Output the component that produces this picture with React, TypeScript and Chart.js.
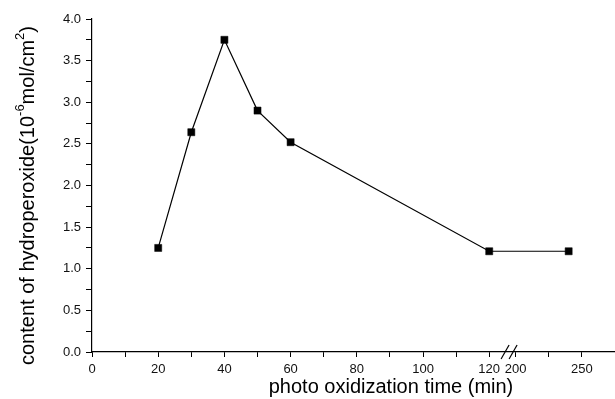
import React, { useEffect, useRef } from "react";
import { Chart, registerables } from "chart.js";

Chart.register(...registerables);

// ---- data ----
const times = [20, 30, 40, 50, 60, 120, 240]; // photo oxidization time (min)
const hydroperoxide = [1.25, 2.64, 3.75, 2.9, 2.52, 1.21, 1.21]; // 10^-6 mol/cm^2
const xMajorTicks = [0, 20, 40, 60, 80, 100, 120, 200, 250];
const xMinorTicks = [10, 30, 50, 70, 90, 110, 225];
const yMin = 0;
const yMax = 4;
const yStep = 0.25;
const xTitle = "photo oxidization time (min)";
const yTitleParts = [
  { t: "content of hydroperoxide(10", sup: false },
  { t: "-6", sup: true },
  { t: "mol/cm", sup: false },
  { t: "2", sup: true },
  { t: ")", sup: false },
];

// broken x axis: 0..120 then 200..275 compressed
const BREAK_FROM = 120;
const BREAK_TO = 200;
const BREAK_GAP = 8;
const AFTER_SCALE = 0.4;
const X_END = 275;

function toAxis(v: number): number {
  return v <= BREAK_FROM ? v : BREAK_FROM + BREAK_GAP + (v - BREAK_TO) * AFTER_SCALE;
}

const FONT = '"Liberation Sans", Arial, Helvetica, sans-serif';

const decorPlugin = {
  id: "decor",
  afterDraw(chart: any) {
    const ctx = chart.ctx as CanvasRenderingContext2D;
    const xs = chart.scales.x;
    const ys = chart.scales.y;
    ctx.save();
    // axis break marks
    const bx = xs.getPixelForValue(BREAK_FROM + BREAK_GAP * 0.75);
    const by = ys.getPixelForValue(0);
    ctx.strokeStyle = "#000";
    ctx.lineWidth = 1.2;
    for (const dx of [-4, 4]) {
      ctx.beginPath();
      ctx.moveTo(bx + dx - 4, by + 7);
      ctx.lineTo(bx + dx + 4, by - 7);
      ctx.stroke();
    }
    // x title
    ctx.fillStyle = "#000";
    ctx.font = `20px ${FONT}`;
    ctx.textAlign = "center";
    ctx.textBaseline = "middle";
    ctx.fillText(xTitle, 391, 387);
    // y title with superscripts
    ctx.translate(28, 365);
    ctx.rotate(-Math.PI / 2);
    ctx.textAlign = "left";
    let x = 0;
    for (const p of yTitleParts) {
      ctx.font = p.sup ? `13px ${FONT}` : `20px ${FONT}`;
      ctx.fillText(p.t, x, p.sup ? -8 : 0);
      x += ctx.measureText(p.t).width;
    }
    ctx.restore();
  },
};

export default function App() {
  const ref = useRef<HTMLCanvasElement | null>(null);
  useEffect(() => {
    if (!ref.current) return;
    const xTickValues = [...xMajorTicks, ...xMinorTicks].sort((a, b) => a - b);
    const chart = new Chart(ref.current, {
      type: "line",
      data: {
        datasets: [
          {
            data: times.map((t, i) => ({ x: toAxis(t), y: hydroperoxide[i] })),
            borderColor: "#000",
            borderWidth: 1.2,
            pointStyle: "rect",
            pointRadius: 5,
            pointBackgroundColor: "#000",
            pointBorderColor: "#000",
            pointBorderWidth: 0.5,
            tension: 0,
            fill: false,
          },
        ],
      },
      options: {
        animation: false,
        responsive: false,
        devicePixelRatio: 1,
        layout: { autoPadding: false, padding: { top: 19, left: 0, right: 0, bottom: 0 } },
        plugins: { legend: { display: false }, tooltip: { enabled: false } },
        scales: {
          x: {
            type: "linear",
            min: 0,
            max: toAxis(X_END),
            afterFit: (s: any) => {
              s.height = 47;
              s.paddingRight = 0;
              s.paddingLeft = 0;
            },
            afterBuildTicks: (s: any) => {
              s.ticks = xTickValues.map((v) => ({ value: toAxis(v) }));
            },
            ticks: {
              autoSkip: false,
              maxRotation: 0,
              padding: 5,
              color: "#111",
              font: { family: FONT, size: 13 },
              callback: (val: any) => {
                const m = xMajorTicks.find((t) => Math.abs(toAxis(t) - Number(val)) < 1e-6);
                return m === undefined ? "" : String(m);
              },
            },
            grid: {
              display: true,
              drawOnChartArea: false,
              drawTicks: true,
              tickLength: 5,
              tickColor: "#000",
              tickWidth: 1,
            },
            border: { display: true, color: "#000", width: 1.2 },
          },
          y: {
            type: "linear",
            min: yMin,
            max: yMax,
            afterFit: (s: any) => {
              s.width = 92;
            },
            ticks: {
              stepSize: yStep,
              autoSkip: false,
              padding: 5,
              color: "#111",
              font: { family: FONT, size: 13 },
              callback: (val: any) => {
                const v = Number(val);
                return Math.abs(v * 2 - Math.round(v * 2)) < 1e-6 ? v.toFixed(1) : "";
              },
            },
            grid: {
              display: true,
              drawOnChartArea: false,
              drawTicks: true,
              tickLength: 6,
              tickColor: "#000",
              tickWidth: 1,
            },
            border: { display: true, color: "#000", width: 1.2 },
          },
        },
      },
      plugins: [decorPlugin],
    });
    return () => chart.destroy();
  }, []);
  return (
    <div style={{ position: "fixed", left: 0, top: 0, width: 615, height: 399, background: "#fff" }}>
      <canvas ref={ref} width={615} height={399} style={{ display: "block" }} />
    </div>
  );
}
